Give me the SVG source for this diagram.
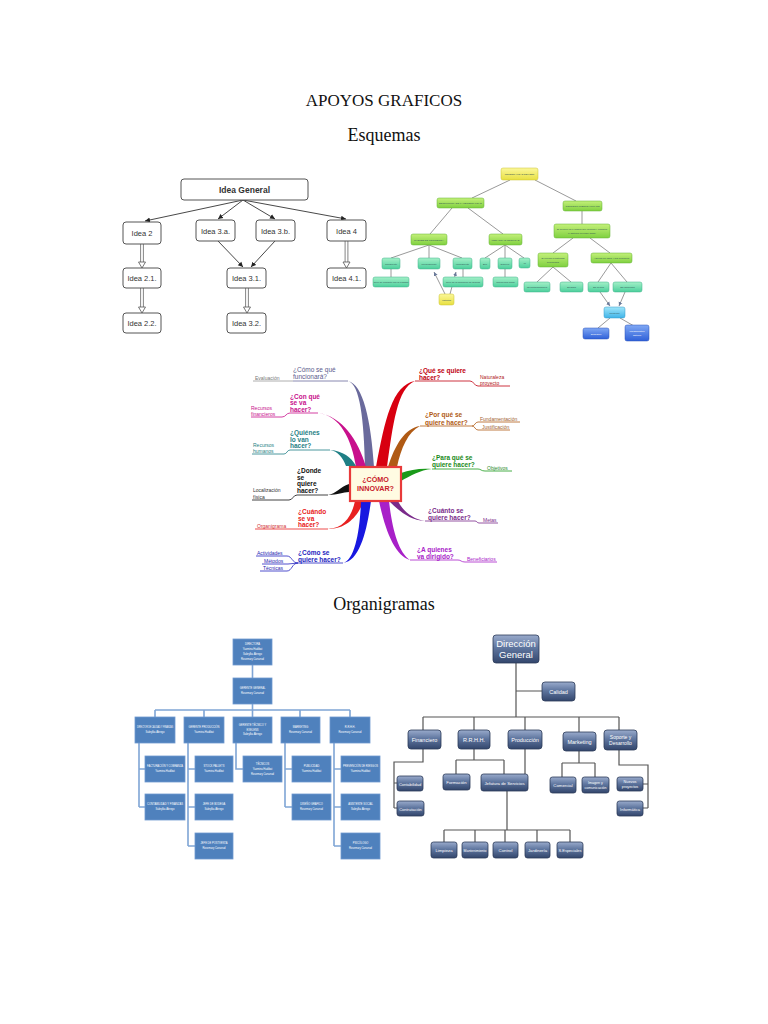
<svg xmlns="http://www.w3.org/2000/svg" width="768" height="1024" viewBox="0 0 768 1024">
<style>
.ttl{font-family:"Liberation Serif","Times New Roman",serif;fill:#111;text-anchor:middle}
.sb{fill:#fff;stroke:#555;stroke-width:1}
.st{font-family:"Liberation Sans Narrow","Liberation Sans",sans-serif;font-size:7.5px;fill:#333;text-anchor:middle}
.sl{stroke:#333;stroke-width:0.9;fill:none}
.dl{stroke:#666;stroke-width:0.8;fill:none}
.hh{fill:#fff;stroke:#555;stroke-width:0.8}
.ge{stroke:#9a9a9a;stroke-width:1;fill:none}
.gt{font-family:"Liberation Sans",sans-serif;font-size:2.4px;fill:#355;text-anchor:middle}
.mq{font-family:"Liberation Sans",sans-serif;font-size:6.5px;font-weight:bold}
.ms{font-family:"Liberation Sans",sans-serif;font-size:5px}
.ml{fill:none;stroke-width:0.8}
.ob{fill:#4f81bd;stroke:#6f9ad0;stroke-width:0.8}
.oc{stroke:#7fa5d5;stroke-width:1.6;fill:none}
.ot{font-family:"Liberation Sans Narrow","Liberation Sans",sans-serif;font-size:2.6px;fill:#fff;text-anchor:middle}
.rb{fill:url(#steel);stroke:#2b3a58;stroke-width:0.8}
.rc{stroke:#555;stroke-width:1.2;fill:none}
.rt{font-family:"Liberation Sans Narrow","Liberation Sans",sans-serif;font-size:5.5px;fill:#fff;text-anchor:middle}
</style>
<defs>
<marker id="ah" markerUnits="userSpaceOnUse" markerWidth="6" markerHeight="6" refX="5" refY="3" orient="auto"><path d="M0,0.5 L5,3 L0,5.5 z" fill="#222"/></marker>
<marker id="ag" markerUnits="userSpaceOnUse" markerWidth="5" markerHeight="5" refX="4" refY="2.5" orient="auto"><path d="M0,0.5 L4,2.5 L0,4.5 z" fill="#6a7a9a"/></marker>
<linearGradient id="steel" x1="0" y1="0" x2="0" y2="1"><stop offset="0" stop-color="#9aabcc"/><stop offset="0.45" stop-color="#5f769f"/><stop offset="1" stop-color="#33466c"/></linearGradient>
<linearGradient id="gG" x1="0" y1="0" x2="0" y2="1"><stop offset="0" stop-color="#c4f07a"/><stop offset="1" stop-color="#7fd040"/></linearGradient>
<linearGradient id="gT" x1="0" y1="0" x2="0" y2="1"><stop offset="0" stop-color="#a4f0c8"/><stop offset="1" stop-color="#4ccf9c"/></linearGradient>
<linearGradient id="gY" x1="0" y1="0" x2="0" y2="1"><stop offset="0" stop-color="#fbf79a"/><stop offset="1" stop-color="#e8e040"/></linearGradient>
<linearGradient id="gC" x1="0" y1="0" x2="0" y2="1"><stop offset="0" stop-color="#a0e6fa"/><stop offset="1" stop-color="#40b4e8"/></linearGradient>
<linearGradient id="gB" x1="0" y1="0" x2="0" y2="1"><stop offset="0" stop-color="#80a8f4"/><stop offset="1" stop-color="#2f60d8"/></linearGradient>
</defs>
<rect width="768" height="1024" fill="#fff"/>

<text class="ttl" x="384" y="106" style="font-size:17px">APOYOS GRAFICOS</text>
<text class="ttl" x="384" y="141" style="font-size:18px">Esquemas</text>
<text class="ttl" x="384" y="610" style="font-size:18px">Organigramas</text>

<!-- ===== Scheme 1 ===== -->
<g id="scheme1-connectors">
<path class="sl" d="M243,200 L145,221" marker-end="url(#ah)"/>
<path class="sl" d="M243,200 L218,219" marker-end="url(#ah)"/>
<path class="sl" d="M243,200 L275,219" marker-end="url(#ah)"/>
<path class="sl" d="M243,200 L346,219" marker-end="url(#ah)"/>
<path class="sl" d="M218,241 L243,267" marker-end="url(#ah)"/>
<path class="sl" d="M275,241 L251,267" marker-end="url(#ah)"/>
<path class="dl" d="M140.6,244 V262 M143.4,244 V262"/><path class="hh" d="M138.5,262 H145.5 L142,268 Z"/>
<path class="dl" d="M140.6,288 V307 M143.4,288 V307"/><path class="hh" d="M138.5,307 H145.5 L142,313 Z"/>
<path class="dl" d="M245.6,288 V307 M248.4,288 V307"/><path class="hh" d="M243.5,307 H250.5 L247,313 Z"/>
<path class="dl" d="M345.1,241 V262 M347.9,241 V262"/><path class="hh" d="M343,262 H350 L346.5,268 Z"/>
</g>
<g id="n-idea-general"><rect class="sb" x="181" y="179" width="127" height="21" rx="3"/><text class="st" x="244.5" y="193" style="font-weight:bold;font-size:8.5px">Idea General</text></g>
<g id="n-idea2"><rect class="sb" x="123" y="222" width="38" height="22" rx="3"/><text class="st" x="142" y="236">Idea 2</text></g>
<g id="n-idea3a"><rect class="sb" x="196" y="220" width="39" height="21" rx="3"/><text class="st" x="215.5" y="234">Idea 3.a.</text></g>
<g id="n-idea3b"><rect class="sb" x="256" y="220" width="39" height="21" rx="3"/><text class="st" x="275.5" y="234">Idea 3.b.</text></g>
<g id="n-idea4"><rect class="sb" x="327" y="220" width="39" height="21" rx="3"/><text class="st" x="346.5" y="234">Idea 4</text></g>
<g id="n-idea21"><rect class="sb" x="123" y="268" width="38" height="20" rx="3"/><text class="st" x="142" y="281">Idea 2.1.</text></g>
<g id="n-idea31"><rect class="sb" x="227" y="268" width="39" height="20" rx="3"/><text class="st" x="246.5" y="281">Idea 3.1.</text></g>
<g id="n-idea41"><rect class="sb" x="327" y="268" width="39" height="20" rx="3"/><text class="st" x="346.5" y="281">Idea 4.1.</text></g>
<g id="n-idea22"><rect class="sb" x="123" y="313" width="38" height="20" rx="3"/><text class="st" x="142" y="326">Idea 2.2.</text></g>
<g id="n-idea32"><rect class="sb" x="227" y="313" width="39" height="20" rx="3"/><text class="st" x="246.5" y="326">Idea 3.2.</text></g>

<!-- ===== Scheme 2 (green map) ===== -->
<g id="scheme2-connectors">
<path class="ge" d="M510,180 L472,198 M535,180 L576,201 M452,208 L430,234 M468,208 L503,234"/>
<path class="ge" d="M429,245 L391,258 M429,245 L429,258 M429,245 L462,258"/>
<path class="ge" d="M505,245 L485,258 M505,245 L505,258 M505,245 L524,258"/>
<path class="ge" d="M391,269 V277 M463,269 V277 M505,269 V277"/>
<path class="ge" d="M445,294 L434,272" stroke="#7a8aa8" marker-end="url(#ag)"/>
<path class="ge" d="M450,294 L456,272" stroke="#7a8aa8" marker-end="url(#ag)"/>
<path class="ge" d="M582,211 V224 M573,238 L553,253 M590,238 L610,253"/>
<path class="ge" d="M553,267 L537,282 M553,267 L571,282 M611,263 L598,282 M611,263 L627,282"/>
<path class="ge" d="M600,292 L610,306" stroke="#7a8aa8" marker-end="url(#ag)"/>
<path class="ge" d="M625,292 L619,306" stroke="#7a8aa8" marker-end="url(#ag)"/>
<path class="ge" d="M610,318 L598,328 M620,318 L634,326"/>
</g>
<g id="g-y0"><rect x="501" y="168" width="37" height="12" rx="2" fill="url(#gY)" stroke="#c8c030" stroke-width="0.5"/><text class="gt" x="519.5" y="175">PERSONALIDAD DEL SER</text></g>
<g id="g-estructura"><rect x="437" y="198" width="47" height="10" rx="2" fill="url(#gG)" stroke="#60b030" stroke-width="0.5"/><text class="gt" x="460.5" y="204">ESTRUCTURA DE LA PERSONALIDAD</text></g>
<g id="g-comportamiento"><rect x="563" y="201" width="39" height="10" rx="2" fill="url(#gG)" stroke="#60b030" stroke-width="0.5"/><text class="gt" x="582.5" y="207">COMPORTAMIENTO HUMANO</text></g>
<g id="g-niveles"><rect x="411" y="234" width="36" height="11" rx="2" fill="url(#gG)" stroke="#60b030" stroke-width="0.5"/><text class="gt" x="429" y="240.5">NIVELES DE CONCIENCIA</text></g>
<g id="g-instancias"><rect x="489" y="234" width="33" height="11" rx="2" fill="url(#gG)" stroke="#60b030" stroke-width="0.5"/><text class="gt" x="505.5" y="240.5">INSTANCIAS PSÍQUICAS</text></g>
<g id="g-cerebro"><rect x="554" y="224" width="56" height="14" rx="2" fill="url(#gG)" stroke="#60b030" stroke-width="0.5"/><text class="gt" x="582" y="230">El cerebro es el órgano que controla y coordina</text><text class="gt" x="582" y="233.5">el sistema nervioso (SNC)</text></g>
<g id="g-sistemas"><rect x="538" y="253" width="30" height="14" rx="2" fill="url(#gG)" stroke="#60b030" stroke-width="0.5"/><text class="gt" x="553" y="259">El cerebro 3 sistemas</text><text class="gt" x="553" y="262.5">funcionales</text></g>
<g id="g-snc"><rect x="591" y="253" width="41" height="10" rx="2" fill="url(#gG)" stroke="#60b030" stroke-width="0.5"/><text class="gt" x="611.5" y="259">Aspecto del SNC y sus funciones</text></g>
<g id="t-consciente"><rect x="382" y="258" width="18" height="11" rx="2" fill="url(#gT)" stroke="#3cb088" stroke-width="0.5"/><text class="gt" x="391" y="264.5">Consciente</text></g>
<g id="t-preconsciente"><rect x="418" y="258" width="22" height="11" rx="2" fill="url(#gT)" stroke="#3cb088" stroke-width="0.5"/><text class="gt" x="429" y="264.5">Preconsciente</text></g>
<g id="t-inconsciente"><rect x="453" y="258" width="19" height="11" rx="2" fill="url(#gT)" stroke="#3cb088" stroke-width="0.5"/><text class="gt" x="462.5" y="264.5">Inconsciente</text></g>
<g id="t-ello"><rect x="480" y="258" width="10" height="11" rx="2" fill="url(#gT)" stroke="#3cb088" stroke-width="0.5"/><text class="gt" x="485" y="264.5">Ello</text></g>
<g id="t-superyo"><rect x="498" y="258" width="14" height="11" rx="2" fill="url(#gT)" stroke="#3cb088" stroke-width="0.5"/><text class="gt" x="505" y="264.5">Superyó</text></g>
<g id="t-yo"><rect x="519" y="258" width="11" height="10" rx="2" fill="url(#gT)" stroke="#3cb088" stroke-width="0.5"/><text class="gt" x="524.5" y="264">Yo</text></g>
<g id="t-contacto"><rect x="373" y="277" width="36" height="10" rx="2" fill="url(#gT)" stroke="#3cb088" stroke-width="0.5"/><text class="gt" x="391" y="283">Nivel de contacto con la realidad</text></g>
<g id="t-deseos"><rect x="443" y="277" width="40" height="10" rx="2" fill="url(#gT)" stroke="#3cb088" stroke-width="0.5"/><text class="gt" x="463" y="283">Nivel de la formación de deseos</text></g>
<g id="t-moral"><rect x="493" y="277" width="25" height="10" rx="2" fill="url(#gT)" stroke="#3cb088" stroke-width="0.5"/><text class="gt" x="505.5" y="283">Conciencia moral</text></g>
<g id="y-instintos"><rect x="439" y="294" width="15" height="11" rx="2" fill="url(#gY)" stroke="#c8c030" stroke-width="0.5"/><text class="gt" x="446.5" y="300.5">Instintos</text></g>
<g id="t-neuro"><rect x="524" y="282" width="26" height="10" rx="2" fill="url(#gT)" stroke="#3cb088" stroke-width="0.5"/><text class="gt" x="537" y="288">Neurotransmisores</text></g>
<g id="t-sinapsis"><rect x="560" y="282" width="23" height="10" rx="2" fill="url(#gT)" stroke="#3cb088" stroke-width="0.5"/><text class="gt" x="571.5" y="288">Sinapsis</text></g>
<g id="t-sncentral"><rect x="588" y="282" width="21" height="10" rx="2" fill="url(#gT)" stroke="#3cb088" stroke-width="0.5"/><text class="gt" x="598.5" y="288">SN central</text></g>
<g id="t-snauto"><rect x="613" y="282" width="29" height="10" rx="2" fill="url(#gT)" stroke="#3cb088" stroke-width="0.5"/><text class="gt" x="627.5" y="288">SN autónomo</text></g>
<g id="c-periferico"><rect x="604" y="307" width="21" height="11" rx="2" fill="url(#gC)" stroke="#3098c8" stroke-width="0.5"/><text class="gt" x="614.5" y="313.5">Periférico</text></g>
<g id="b-1"><rect x="583" y="328" width="26" height="11" rx="2" fill="url(#gB)" stroke="#2a50b8" stroke-width="0.5"/><text class="gt" x="596" y="334.5" style="fill:#fff">Simpático</text></g>
<g id="b-2"><rect x="625" y="325" width="24" height="16" rx="2" fill="url(#gB)" stroke="#2a50b8" stroke-width="0.5"/><text class="gt" x="637" y="332" style="fill:#fff">Parasimpático</text><text class="gt" x="637" y="335.5" style="fill:#fff">sistema</text></g>

<!-- ===== Mind map ===== -->
<g id="mindmap-connectors">
<path d="M365,467 C364,420 360,384 348,381 C363,384 371,420 374,467 Z" fill="#6a6a9c"/>
<path class="ml" stroke="#6a6a9c" d="M348,381 H293"/><path class="ml" stroke="#999" d="M293,381 H253"/>
<path d="M356,467 C352,440 340,415 318,413 C342,416 358,440 366,467 Z" fill="#c8108c"/>
<path class="ml" stroke="#c8108c" d="M318,413 H290 C286,413 286,417 282,417 H251"/>
<path d="M346,466 C343,458 338,451 330,450 C343,451 351,457 356,466 Z" fill="#1f7f85"/>
<path class="ml" stroke="#1f7f85" d="M330,450 H290 C287,450 287,454 284,454 H252"/>
<path d="M349,484 C340,487 336,494 328,495 C338,495 343,492 349,492 Z" fill="#111"/>
<path class="ml" stroke="#111" d="M328,495 H297 C293,495 293,500 289,500 H252"/>
<path d="M355,501 C352,515 345,528 328,529 C348,529 358,515 364,501 Z" fill="#e82020"/>
<path class="ml" stroke="#e82020" d="M328,529 H255"/>
<path d="M361,501 C360,530 355,560 343,563 C360,561 367,530 371,501 Z" fill="#1818e0"/>
<path class="ml" stroke="#2424c0" d="M343,563 H298 M298,563 C292,563 292,556 287,556 H256 M298,563 L288,564 H262 M298,563 C292,563 292,571 287,571 H260"/>
<path d="M376,467 C385,420 392,385 415,381 C397,388 393,425 387,467 Z" fill="#d80010"/>
<path class="ml" stroke="#c00010" d="M415,381 H470 C474,381 474,386 478,386 H510"/>
<path d="M388,467 C395,445 405,428 420,426 C408,432 401,448 397,467 Z" fill="#b05a14"/>
<path class="ml" stroke="#b05a14" d="M420,426 H472 C475,426 475,422 478,422 H520 M472,426 C475,426 475,430 478,430 H510"/>
<path d="M401,473 C410,470 420,468 432,469 C420,470 410,476 401,481 Z" fill="#1a9a1a"/>
<path class="ml" stroke="#1a9a1a" d="M432,469 H478 C481,469 481,471 485,471 H512"/>
<path d="M389,501 C400,512 410,520 425,521 C412,519 402,510 398,501 Z" fill="#7a2a8a"/>
<path class="ml" stroke="#7a2a8a" d="M425,521 H475 C477,521 477,523 479,523 H498"/>
<path d="M379,501 C385,530 395,556 410,560 C398,552 392,528 389,501 Z" fill="#a820c8"/>
<path class="ml" stroke="#a820c8" d="M410,560 H458 C461,560 461,562 465,562 H497"/>
</g>
<g id="mm-center"><rect x="350" y="467" width="51" height="34" fill="#fffbe2" stroke="#e83a3a" stroke-width="2.2"/><text class="mq" x="375.5" y="482" style="text-anchor:middle;fill:#c8202a;font-size:7.2px">¿CÓMO</text><text class="mq" x="375.5" y="490.5" style="text-anchor:middle;fill:#c8202a;font-size:7.2px">INNOVAR?</text></g>
<g id="mm-funcionara"><text class="ms" x="293" y="372" style="fill:#5a5a8c;font-size:6.5px">¿Cómo se qué</text><text class="ms" x="293" y="379" style="fill:#5a5a8c;font-size:6.5px">funcionará?</text><text class="ms" x="255" y="379.5" style="fill:#777">Evaluación</text></g>
<g id="mm-conque"><text class="mq" x="290" y="398.5" style="fill:#c8108c">¿Con qué</text><text class="mq" x="290" y="405" style="fill:#c8108c">se va</text><text class="mq" x="290" y="411.5" style="fill:#c8108c">hacer?</text><text class="ms" x="251" y="410" style="fill:#c8108c">Recursos</text><text class="ms" x="251" y="416" style="fill:#c8108c">financieros</text></g>
<g id="mm-quienes"><text class="mq" x="290" y="435" style="fill:#1f7f85">¿Quiénes</text><text class="mq" x="290" y="441.5" style="fill:#1f7f85">lo van</text><text class="mq" x="290" y="448" style="fill:#1f7f85">hacer?</text><text class="ms" x="253" y="447" style="fill:#1f7f85">Recursos</text><text class="ms" x="253" y="453" style="fill:#1f7f85">humanos</text></g>
<g id="mm-donde"><text class="mq" x="297" y="473" style="fill:#111">¿Donde</text><text class="mq" x="297" y="479.5" style="fill:#111">se</text><text class="mq" x="297" y="486" style="fill:#111">quiere</text><text class="mq" x="297" y="492.5" style="fill:#111">hacer?</text><text class="ms" x="253" y="492" style="fill:#333">Localización</text><text class="ms" x="253" y="499" style="fill:#333">física</text></g>
<g id="mm-cuando"><text class="mq" x="298" y="514" style="fill:#e82020">¿Cuándo</text><text class="mq" x="298" y="520.5" style="fill:#e82020">se va</text><text class="mq" x="298" y="527" style="fill:#e82020">hacer?</text><text class="ms" x="257" y="528" style="fill:#d03030">Organigrama</text></g>
<g id="mm-como"><text class="mq" x="298" y="555" style="fill:#2424c0">¿Cómo se</text><text class="mq" x="298" y="561.5" style="fill:#2424c0">quiere hacer?</text><text class="ms" x="257" y="555" style="fill:#2424b0">Actividades</text><text class="ms" x="264" y="563" style="fill:#2424b0">Métodos</text><text class="ms" x="263" y="570" style="fill:#2424b0">Técnicas</text></g>
<g id="mm-que"><text class="mq" x="419" y="373" style="fill:#c00010">¿Qué se quiere</text><text class="mq" x="419" y="379.5" style="fill:#c00010">hacer?</text><text class="ms" x="480" y="379" style="fill:#b02020">Naturaleza</text><text class="ms" x="480" y="385" style="fill:#b02020">proyecto</text></g>
<g id="mm-porque"><text class="mq" x="425" y="417" style="fill:#b05a14">¿Por qué se</text><text class="mq" x="425" y="424.5" style="fill:#b05a14">quiere hacer?</text><text class="ms" x="480" y="420.5" style="fill:#a06030">Fundamentación</text><text class="ms" x="482" y="428.5" style="fill:#a06030">Justificación</text></g>
<g id="mm-paraque"><text class="mq" x="432" y="460" style="fill:#1a8a1a">¿Para qué se</text><text class="mq" x="432" y="467" style="fill:#1a8a1a">quiere hacer?</text><text class="ms" x="487" y="469.5" style="fill:#2a8a2a">Objetivos</text></g>
<g id="mm-cuanto"><text class="mq" x="428" y="513" style="fill:#7a2a8a">¿Cuánto se</text><text class="mq" x="428" y="519.5" style="fill:#7a2a8a">quiere hacer?</text><text class="ms" x="483" y="522" style="fill:#7a2a8a">Metas</text></g>
<g id="mm-aquienes"><text class="mq" x="417" y="552" style="fill:#a820c8">¿A quienes</text><text class="mq" x="417" y="558.5" style="fill:#a820c8">va dirigido?</text><text class="ms" x="467" y="561" style="fill:#a820c8">Beneficiarios</text></g>

<!-- ===== Org chart 1 ===== -->
<g id="org1-connectors">
<path class="oc" d="M252.5,665 V678 M252.5,704 V710 M155,710 H350 M155,710 V717 M204,710 V717 M252.5,710 V717 M300,710 V717 M350,710 V717"/>
<path class="oc" d="M139,743 V807 M139,769 H145 M139,807 H145"/>
<path class="oc" d="M188,743 V846 M188,769 H195 M188,807 H195 M188,846 H195"/>
<path class="oc" d="M236,743 V769 H243"/>
<path class="oc" d="M285,743 V807 M285,769 H292 M285,807 H292"/>
<path class="oc" d="M334,743 V846 M334,769 H341 M334,807 H341 M334,846 H341"/>
</g>
<g id="o-directora"><rect class="ob" x="233" y="639" width="39" height="26"/><text class="ot" x="252.5" y="645">DIRECTORA</text><text class="ot" x="252.5" y="650">Yazmina Hadibat</text><text class="ot" x="252.5" y="655">Sabrylka Abrego</text><text class="ot" x="252.5" y="660">Rosemary Cananud</text></g>
<g id="o-gerente"><rect class="ob" x="233" y="678" width="39" height="26"/><text class="ot" x="252.5" y="689">GERENTE GENERAL</text><text class="ot" x="252.5" y="694">Rosemary Cananud</text></g>
<g id="o-calidad"><rect class="ob" x="135" y="717" width="40" height="26"/><text class="ot" x="155" y="728" textLength="36" lengthAdjust="spacingAndGlyphs">DIRECTOR DE CALIDAD Y FINANZAS</text><text class="ot" x="155" y="733">Sabrylka Abrego</text></g>
<g id="o-produccion"><rect class="ob" x="184" y="717" width="40" height="26"/><text class="ot" x="204" y="728">GERENTE PRODUCCIÓN</text><text class="ot" x="204" y="733">Yazmina Hadibat</text></g>
<g id="o-tecnico"><rect class="ob" x="233" y="717" width="39" height="26"/><text class="ot" x="252.5" y="726">GERENTE TÉCNICO Y</text><text class="ot" x="252.5" y="730.5">EXELENS</text><text class="ot" x="252.5" y="735">Sabrylka Abrego</text></g>
<g id="o-marketing"><rect class="ob" x="281" y="717" width="39" height="26"/><text class="ot" x="300.5" y="728">MARKETING</text><text class="ot" x="300.5" y="733">Rosemary Cananud</text></g>
<g id="o-rrhh"><rect class="ob" x="330" y="717" width="40" height="26"/><text class="ot" x="350" y="728">R.R.H.H.</text><text class="ot" x="350" y="733">Rosemary Cananud</text></g>
<g id="o-facturacion"><rect class="ob" x="145" y="756" width="40" height="26"/><text class="ot" x="165" y="767" textLength="36" lengthAdjust="spacingAndGlyphs">FACTURACIÓN Y COBRANZA</text><text class="ot" x="165" y="772">Yazmina Hadibat</text></g>
<g id="o-stock"><rect class="ob" x="195" y="756" width="38" height="26"/><text class="ot" x="214" y="767">STOCK PALLETS</text><text class="ot" x="214" y="772">Yazmina Hadibat</text></g>
<g id="o-tecnicos"><rect class="ob" x="243" y="756" width="39" height="26"/><text class="ot" x="262.5" y="765">TÉCNICOS</text><text class="ot" x="262.5" y="770">Yazmina Hadibat</text><text class="ot" x="262.5" y="775">Rosemary Cananud</text></g>
<g id="o-publicidad"><rect class="ob" x="292" y="756" width="39" height="26"/><text class="ot" x="311.5" y="767">PUBLICIDAD</text><text class="ot" x="311.5" y="772">Yazmina Hadibat</text></g>
<g id="o-prevencion"><rect class="ob" x="341" y="756" width="39" height="26"/><text class="ot" x="360.5" y="767" textLength="35" lengthAdjust="spacingAndGlyphs">PREVENCIÓN DE RIESGOS</text><text class="ot" x="360.5" y="772">Yazmina Hadibat</text></g>
<g id="o-contabilidad"><rect class="ob" x="145" y="794" width="40" height="26"/><text class="ot" x="165" y="805" textLength="36" lengthAdjust="spacingAndGlyphs">CONTABILIDAD Y FINANZAS</text><text class="ot" x="165" y="810">Sabrylka Abrego</text></g>
<g id="o-bodega"><rect class="ob" x="195" y="794" width="38" height="26"/><text class="ot" x="214" y="805">JEFE DE BODEGA</text><text class="ot" x="214" y="810">Sabrylka Abrego</text></g>
<g id="o-diseno"><rect class="ob" x="292" y="794" width="39" height="26"/><text class="ot" x="311.5" y="805">DISEÑO GRÁFICO</text><text class="ot" x="311.5" y="810">Rosemary Cananud</text></g>
<g id="o-asistente"><rect class="ob" x="341" y="794" width="39" height="26"/><text class="ot" x="360.5" y="805">ASISTENTE SOCIAL</text><text class="ot" x="360.5" y="810">Sabrylka Abrego</text></g>
<g id="o-postventa"><rect class="ob" x="195" y="833" width="38" height="26"/><text class="ot" x="214" y="844">JEFE DE POSTVENTA</text><text class="ot" x="214" y="849">Rosemary Cananud</text></g>
<g id="o-psicologo"><rect class="ob" x="341" y="833" width="39" height="26"/><text class="ot" x="360.5" y="844">PSICÓLOGO</text><text class="ot" x="360.5" y="849">Rosemary Cananud</text></g>

<!-- ===== Org chart 2 ===== -->
<g id="org2-connectors">
<path class="rc" d="M516,663 V717 M516,691 H542 M423,717 H619 M423,717 V730 M474,717 V730 M525,717 V730 M579,717 V732 M619,717 V730"/>
<path class="rc" d="M423,749 V762 H394 V808 M394,783 H397 M394,808 H397"/>
<path class="rc" d="M474,749 V760 M456,760 H504 M456,760 V774 M504,760 V774 M525,749 V774"/>
<path class="rc" d="M507,791 V830 M444,830 H570 M444,830 V842 M475,830 V842 M505,830 V842 M537,830 V842 M570,830 V842"/>
<path class="rc" d="M579,751 V763 M562,763 H595 M562,763 V777 M595,763 V777"/>
<path class="rc" d="M619,750 V765 H648 V808 M648,784 H643 M648,808 H643"/>
</g>
<g id="r-direccion"><rect class="rb" x="493" y="635" width="46" height="28" rx="3"/><text class="rt" x="516" y="647" style="font-size:9.5px">Dirección</text><text class="rt" x="516" y="658" style="font-size:9.5px">General</text></g>
<g id="r-calidad"><rect class="rb" x="542" y="682" width="33" height="19" rx="3"/><text class="rt" x="558.5" y="693.5">Calidad</text></g>
<g id="r-financiero"><rect class="rb" x="408" y="730" width="33" height="19" rx="3"/><text class="rt" x="424.5" y="741.5">Financiero</text></g>
<g id="r-rrhh"><rect class="rb" x="458" y="730" width="32" height="19" rx="3"/><text class="rt" x="474" y="741.5">R.R.H.H.</text></g>
<g id="r-produccion"><rect class="rb" x="508" y="730" width="34" height="19" rx="3"/><text class="rt" x="525" y="741.5">Producción</text></g>
<g id="r-marketing"><rect class="rb" x="563" y="732" width="33" height="19" rx="3"/><text class="rt" x="579.5" y="743.5">Marketing</text></g>
<g id="r-soporte"><rect class="rb" x="604" y="730" width="33" height="20" rx="3"/><text class="rt" x="620.5" y="738.5" style="font-size:5px">Soporte y</text><text class="rt" x="620.5" y="744.5" style="font-size:5px">Desarrollo</text></g>
<g id="r-contabilidad"><rect class="rb" x="397" y="776" width="26" height="15" rx="2.5"/><text class="rt" x="410" y="785.5" style="font-size:4px">Contabilidad</text></g>
<g id="r-contratacion"><rect class="rb" x="397" y="801" width="27" height="15" rx="2.5"/><text class="rt" x="410.5" y="810.5" style="font-size:4px">Contratación</text></g>
<g id="r-formacion"><rect class="rb" x="443" y="774" width="27" height="16" rx="2.5"/><text class="rt" x="456.5" y="784" style="font-size:4.3px">Formación</text></g>
<g id="r-jefatura"><rect class="rb" x="481" y="774" width="47" height="17" rx="2.5"/><text class="rt" x="504.5" y="784.5" style="font-size:4.3px">Jefatura de Servicios</text></g>
<g id="r-comercial"><rect class="rb" x="550" y="777" width="26" height="16" rx="2.5"/><text class="rt" x="563" y="787" style="font-size:4.3px">Comercial</text></g>
<g id="r-imagen"><rect class="rb" x="582" y="777" width="27" height="16" rx="2.5"/><text class="rt" x="595.5" y="784" style="font-size:3.6px">Imagen y</text><text class="rt" x="595.5" y="789" style="font-size:3.6px">comunicación</text></g>
<g id="r-nuevos"><rect class="rb" x="617" y="777" width="26" height="14" rx="2.5"/><text class="rt" x="630" y="783" style="font-size:3.8px">Nuevos</text><text class="rt" x="630" y="788" style="font-size:3.8px">proyectos</text></g>
<g id="r-informatica"><rect class="rb" x="617" y="801" width="26" height="15" rx="2.5"/><text class="rt" x="630" y="810.5" style="font-size:4px">Informática</text></g>
<g id="r-limpieza"><rect class="rb" x="431" y="842" width="26" height="16" rx="2.5"/><text class="rt" x="444" y="852" style="font-size:4.3px">Limpieza</text></g>
<g id="r-mantenimiento"><rect class="rb" x="462" y="842" width="26" height="16" rx="2.5"/><text class="rt" x="475" y="852" style="font-size:3.5px">Mantenimiento</text></g>
<g id="r-control"><rect class="rb" x="493" y="842" width="25" height="16" rx="2.5"/><text class="rt" x="505.5" y="852" style="font-size:4.3px">Control</text></g>
<g id="r-jardineria"><rect class="rb" x="525" y="842" width="25" height="16" rx="2.5"/><text class="rt" x="537.5" y="852" style="font-size:4.3px">Jardinería</text></g>
<g id="r-especiales"><rect class="rb" x="557" y="842" width="26" height="16" rx="2.5"/><text class="rt" x="570" y="852" style="font-size:4px">S.Especiales</text></g>
</svg>
